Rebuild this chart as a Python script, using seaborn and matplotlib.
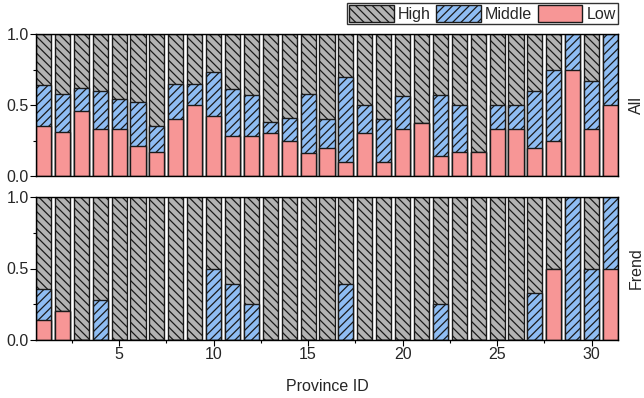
import numpy as np
import pandas as pd
import matplotlib
matplotlib.use("Agg")
import matplotlib.pyplot as plt
import seaborn as sns
from matplotlib.patches import Patch
from matplotlib.ticker import MultipleLocator, FormatStrFormatter

sns.set_theme(style="white")
plt.rcParams['font.family'] = ['Liberation Sans', 'DejaVu Sans']
plt.rcParams['hatch.linewidth'] = 0.9

# Province IDs
provinces = list(range(1, 32))

# Panel "All": share of Low, and cumulative Low+Middle (High fills up to 1.0)
all_low = [0.35, 0.31, 0.46, 0.33, 0.33, 0.21, 0.17, 0.40, 0.50, 0.42,
           0.28, 0.28, 0.30, 0.25, 0.16, 0.20, 0.10, 0.30, 0.10, 0.33,
           0.375, 0.14, 0.17, 0.17, 0.33, 0.33, 0.20, 0.25, 0.75, 0.33, 0.50]
all_mid_top = [0.64, 0.58, 0.62, 0.60, 0.54, 0.52, 0.35, 0.65, 0.65, 0.73,
               0.61, 0.57, 0.38, 0.41, 0.58, 0.40, 0.70, 0.50, 0.40, 0.56,
               0.375, 0.57, 0.50, 0.17, 0.50, 0.50, 0.60, 0.75, 1.00, 0.67, 1.00]

# Panel "Frend"
trend_low = [0.14, 0.20, 0, 0, 0, 0, 0, 0, 0, 0,
             0, 0, 0, 0, 0, 0, 0, 0, 0, 0,
             0, 0, 0, 0, 0, 0, 0, 0.50, 0, 0, 0.50]
trend_mid_top = [0.36, 0.20, 0, 0.28, 0, 0, 0, 0, 0, 0.50,
                 0.39, 0.25, 0, 0, 0, 0, 0.39, 0, 0, 0,
                 0, 0.25, 0, 0, 0, 0, 0.33, 0.50, 1.00, 0.50, 1.00]

panels = [("All", all_low, all_mid_top), ("Frend", trend_low, trend_mid_top)]

c_high = "#b3b3b3"
c_mid = "#8fbdf3"
c_low = "#f79696"
edge = "#1a1a1a"

fig = plt.figure(figsize=(6.44, 3.98), dpi=100)
ax_top = fig.add_axes([36/644, 1 - 176/398, 582/644, 142/398])
ax_bot = fig.add_axes([36/644, 1 - 340/398, 582/644, 143/398])

for ax, (name, low, mid_top) in zip([ax_top, ax_bot], panels):
    df = pd.DataFrame({"province": provinces, "low": low, "mid": mid_top,
                       "high": [1.0] * len(provinces)})
    sns.barplot(data=df, x="province", y="high", native_scale=True, ax=ax,
                color=c_high, saturation=1, width=0.8, edgecolor=edge,
                linewidth=1.0, hatch="\\\\\\\\")
    sns.barplot(data=df, x="province", y="mid", native_scale=True, ax=ax,
                color=c_mid, saturation=1, width=0.8, edgecolor=edge,
                linewidth=1.0, hatch="////")
    sns.barplot(data=df, x="province", y="low", native_scale=True, ax=ax,
                color=c_low, saturation=1, width=0.8, edgecolor=edge,
                linewidth=1.0)
    ax.set_xlim(0.6, 31.4)
    ax.set_ylim(0, 1.0)
    ax.set_ylabel("")
    ax.set_xlabel("")
    ax.yaxis.set_major_locator(MultipleLocator(0.5))
    ax.yaxis.set_minor_locator(MultipleLocator(0.25))
    ax.xaxis.set_major_locator(MultipleLocator(5))
    ax.xaxis.set_minor_locator(MultipleLocator(2.5))
    ax.tick_params(axis="both", which="major", direction="out", length=4,
                   width=0.8, color="black", labelsize=11.5, pad=1)
    ax.tick_params(axis="both", which="minor", direction="out", length=2,
                   width=0.8, color="black")
    ax.tick_params(left=True, bottom=True, which="both")
    ax.yaxis.set_major_formatter(FormatStrFormatter("%.1f"))
    for s in ax.spines.values():
        s.set_color("black")
        s.set_linewidth(1.0)
    # side label, kept just inside the figure edge
    ax.text(1.019, 0.5, name, transform=ax.transAxes, rotation=90,
            va="center", ha="left", fontsize=11.5)

ax_top.tick_params(axis="x", which="both", bottom=False, labelbottom=False)
ax_bot.set_xlabel("Province ID", fontsize=11.5, labelpad=12)

handles = [Patch(facecolor=c_high, edgecolor=edge, hatch="\\\\\\\\", label="High"),
           Patch(facecolor=c_mid, edgecolor=edge, hatch="////", label="Middle"),
           Patch(facecolor=c_low, edgecolor=edge, label="Low")]
leg = fig.legend(handles=handles, loc="upper right", ncol=3,
                 bbox_to_anchor=(618/644, 1 - 3/398), fontsize=11.5,
                 frameon=True, fancybox=False, edgecolor="black",
                 handlelength=2.8, handleheight=1.2, handletextpad=0.25,
                 columnspacing=0.35, borderpad=0.15, borderaxespad=0)
leg.get_frame().set_linewidth(1.0)

fig.savefig("out.png", dpi=100)
